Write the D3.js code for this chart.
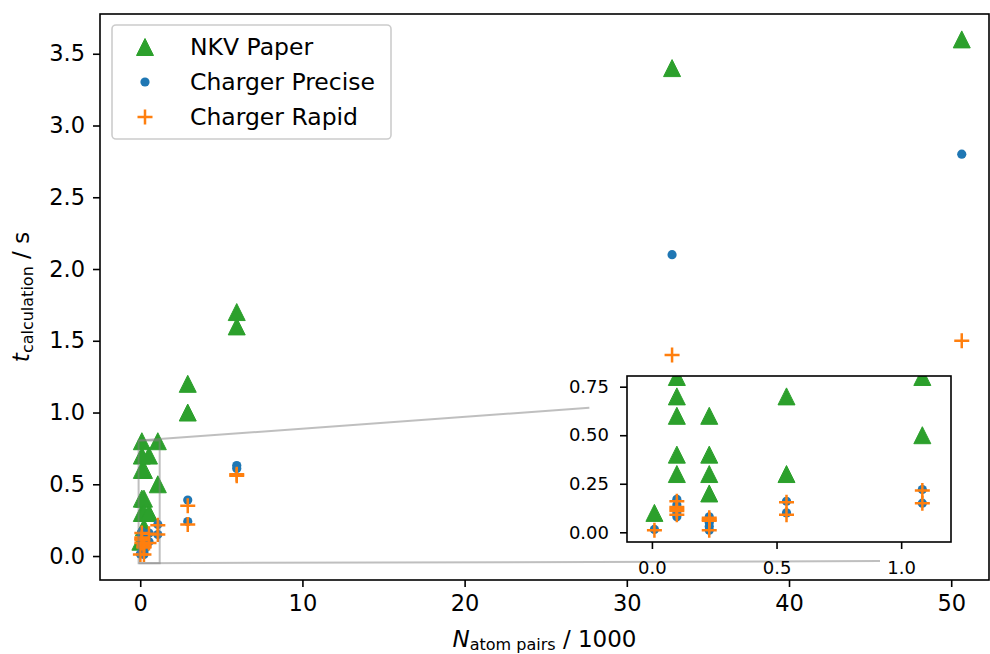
<!DOCTYPE html>
<html>
<head>
<meta charset="utf-8">
<script src="https://d3js.org/d3.v7.min.js"></script>
<style>
    body { margin: 0; background: #fff; }
    svg { display: block; font-family: "DejaVu Sans", sans-serif; }
</style>
</head>
<body>
<svg id="chart" width="990" height="654"></svg>
<script>
// N atom pairs / 1000 for each benchmark system
var nAtomPairs = [0.01, 0.1, 0.1, 0.1, 0.1, 0.1, 0.23, 0.23, 0.23, 0.23,
    0.54, 0.54, 1.085, 1.085, 2.93, 2.93, 5.95, 5.95, 32.79, 50.65];
// calculation times in s
var tNKV = [0.1, 0.8, 0.7, 0.6, 0.4, 0.3, 0.6, 0.4, 0.3, 0.2,
    0.7, 0.3, 0.8, 0.5, 1.2, 1.0, 1.7, 1.6, 3.4, 3.6];
var tPrecise = [0.015, 0.17, 0.14, 0.12, 0.10, 0.08, 0.08, 0.05, 0.03, 0.01,
    0.16, 0.10, 0.22, 0.15, 0.39, 0.24, 0.63, 0.61, 2.1, 2.8];
var tRapid = [0.01, 0.16, 0.13, 0.12, 0.11, 0.09, 0.075, 0.065, 0.06, 0.01,
    0.155, 0.09, 0.215, 0.15, 0.35, 0.22, 0.57, 0.56, 1.4, 1.5];

var seriesNames = ["NKV Paper", "Charger Precise", "Charger Rapid"];
var seriesColors = ["#2ca02c", "#1f77b4", "#ff7f0e"];
var seriesKinds = ["triangle", "dot", "plus"];

// tick labels
var xTicks = [0, 10, 20, 30, 40, 50];
var yTicks = [0, 0.5, 1.0, 1.5, 2.0, 2.5, 3.0, 3.5];
var insetXTicks = [0, 0.5, 1.0];
var insetYTicks = [0, 0.25, 0.5, 0.75];

// axis limits
var xLimits = [-2.48, 52.33];
var yLimits = [-0.167, 3.777];
var insetXLimits = [-0.1, 1.2];
var insetYLimits = [-0.05, 0.805];
// ends of the two zoom connector lines (main data units)
var connectorEnds = [[27.69, 1.033], [45.61, -0.035]];

var svg = d3.select("#chart");

// main axes box
var main = {left: 100, right: 989, top: 14, bottom: 580};
// inset axes box
var inset = {left: 627, right: 951, top: 376, bottom: 542};

var xScale = d3.scaleLinear().domain(xLimits).range([main.left, main.right]);
var yScale = d3.scaleLinear().domain(yLimits).range([main.bottom, main.top]);
var ixScale = d3.scaleLinear().domain(insetXLimits).range([inset.left, inset.right]);
var iyScale = d3.scaleLinear().domain(insetYLimits).range([inset.bottom, inset.top]);

/**
 * Draw one series of markers into a group
 */
function drawMarkers(g, ys, kind, color, xs, ys2) {
    var sel = g.selectAll("path." + kind)
        .data(nAtomPairs.map(function (d, i) { return [d, ys[i]]; }))
        .enter()
        .append("path")
        .attr("class", kind)
        .attr("transform", function (d) {
            return "translate(" + xs(d[0]) + "," + ys2(d[1]) + ")";
        });
    styleMarker(sel, kind, color);
}

function styleMarker(sel, kind, color) {
    if (kind === "triangle") {
        sel.attr("d", "M0,-8.5L8.5,8.5L-8.5,8.5Z")
            .attr("fill", color)
            .attr("stroke", color)
            .attr("stroke-width", 1)
            .attr("stroke-linejoin", "miter");
    } else if (kind === "dot") {
        sel.attr("d", d3.symbol().type(d3.symbolCircle).size(Math.PI * 4.6 * 4.6))
            .attr("fill", color);
    } else {
        sel.attr("d", "M-7.5,0H7.5M0,-7.5V7.5")
            .attr("fill", "none")
            .attr("stroke", color)
            .attr("stroke-width", 2.5);
    }
}

var seriesData = [tNKV, tPrecise, tRapid];

// ---------- main axes ----------
svg.append("clipPath").attr("id", "mainClip")
    .append("rect")
    .attr("x", main.left).attr("y", main.top)
    .attr("width", main.right - main.left).attr("height", main.bottom - main.top);

var xAxis = d3.axisBottom(xScale).tickValues(xTicks).tickFormat(d3.format("d"))
    .tickSize(7).tickPadding(8);
var yAxis = d3.axisLeft(yScale).tickValues(yTicks).tickFormat(d3.format(".1f"))
    .tickSize(7).tickPadding(8);

var gx = svg.append("g")
    .attr("transform", "translate(0," + main.bottom + ")")
    .call(xAxis);
var gy = svg.append("g")
    .attr("transform", "translate(" + main.left + ",0)")
    .call(yAxis);
[gx, gy].forEach(function (g) {
    g.select(".domain").remove();
    g.selectAll("line").attr("stroke", "#000").attr("stroke-width", 1.6);
    g.selectAll("text").attr("font-size", 22.5).attr("fill", "#000")
        .attr("font-family", "DejaVu Sans");
});

var mainPoints = svg.append("g").attr("clip-path", "url(#mainClip)");
seriesData.forEach(function (ys, i) {
    var g = mainPoints.append("g");
    drawMarkers(g, ys, seriesKinds[i], seriesColors[i], xScale, yScale);
});

// zoom rectangle + connectors
var zoomG = svg.append("g")
    .attr("stroke", "#808080")
    .attr("stroke-opacity", 0.5)
    .attr("stroke-width", 2)
    .attr("fill", "none");
zoomG.append("rect")
    .attr("x", xScale(insetXLimits[0]))
    .attr("y", yScale(insetYLimits[1]))
    .attr("width", xScale(insetXLimits[1]) - xScale(insetXLimits[0]))
    .attr("height", yScale(insetYLimits[0]) - yScale(insetYLimits[1]));
zoomG.append("line")
    .attr("x1", xScale(insetXLimits[0])).attr("y1", yScale(insetYLimits[1]))
    .attr("x2", xScale(connectorEnds[0][0])).attr("y2", yScale(connectorEnds[0][1]));
zoomG.append("line")
    .attr("x1", xScale(insetXLimits[0])).attr("y1", yScale(insetYLimits[0]))
    .attr("x2", xScale(connectorEnds[1][0])).attr("y2", yScale(connectorEnds[1][1]));

// frame
svg.append("rect")
    .attr("x", main.left).attr("y", main.top)
    .attr("width", main.right - main.left).attr("height", main.bottom - main.top)
    .attr("fill", "none").attr("stroke", "#000").attr("stroke-width", 1.6);

// axis labels
var yLabel = svg.append("text")
    .attr("transform", "translate(29," + ((main.top + main.bottom) / 2) + ") rotate(-90)")
    .attr("text-anchor", "middle")
    .attr("font-size", 23);
yLabel.append("tspan").attr("font-style", "italic").text("t");
yLabel.append("tspan").attr("font-size", 16).attr("dy", 4).text("calculation");
yLabel.append("tspan").attr("dy", -4).text(" / s");

var xLabel = svg.append("text")
    .attr("x", (main.left + main.right) / 2)
    .attr("y", 647)
    .attr("text-anchor", "middle")
    .attr("font-size", 23);
xLabel.append("tspan").attr("font-style", "italic").text("N");
xLabel.append("tspan").attr("font-size", 16).attr("dy", 3).text("atom pairs");
xLabel.append("tspan").attr("dy", -3).text(" / 1000");

// legend
var legend = svg.append("g");
legend.append("rect")
    .attr("x", 112).attr("y", 25).attr("width", 279).attr("height", 114)
    .attr("rx", 4)
    .attr("fill", "#fff").attr("fill-opacity", 0.8)
    .attr("stroke", "#cccccc").attr("stroke-width", 1.6);
seriesNames.forEach(function (name, i) {
    var rowY = 47 + i * 35;
    var m = legend.append("path")
        .attr("transform", "translate(145," + rowY + ")");
    styleMarker(m, seriesKinds[i], seriesColors[i]);
    legend.append("text")
        .attr("x", 190).attr("y", rowY)
        .attr("dy", "0.36em")
        .attr("font-size", 23.5)
        .text(name);
});

// ---------- inset axes ----------
svg.append("clipPath").attr("id", "insetClip")
    .append("rect")
    .attr("x", inset.left).attr("y", inset.top)
    .attr("width", inset.right - inset.left).attr("height", inset.bottom - inset.top);

svg.append("rect")
    .attr("x", inset.left).attr("y", inset.top)
    .attr("width", inset.right - inset.left).attr("height", inset.bottom - inset.top)
    .attr("fill", "#fff");

var ixAxis = d3.axisBottom(ixScale).tickValues(insetXTicks).tickFormat(d3.format(".1f"))
    .tickSize(7).tickPadding(12);
var iyAxis = d3.axisLeft(iyScale).tickValues(insetYTicks).tickFormat(d3.format(".2f"))
    .tickSize(7).tickPadding(11);
var igx = svg.append("g")
    .attr("transform", "translate(0," + inset.bottom + ")")
    .call(ixAxis);
var igy = svg.append("g")
    .attr("transform", "translate(" + inset.left + ",0)")
    .call(iyAxis);
[igx, igy].forEach(function (g) {
    g.select(".domain").remove();
    g.selectAll("line").attr("stroke", "#000").attr("stroke-width", 1.6);
    g.selectAll("text").attr("font-size", 18).attr("fill", "#000")
        .attr("font-family", "DejaVu Sans");
});

var insetPoints = svg.append("g").attr("clip-path", "url(#insetClip)");
seriesData.forEach(function (ys, i) {
    var g = insetPoints.append("g");
    drawMarkers(g, ys, seriesKinds[i], seriesColors[i], ixScale, iyScale);
});

svg.append("rect")
    .attr("x", inset.left).attr("y", inset.top)
    .attr("width", inset.right - inset.left).attr("height", inset.bottom - inset.top)
    .attr("fill", "none").attr("stroke", "#000").attr("stroke-width", 1.6);
</script>
</body>
</html>
